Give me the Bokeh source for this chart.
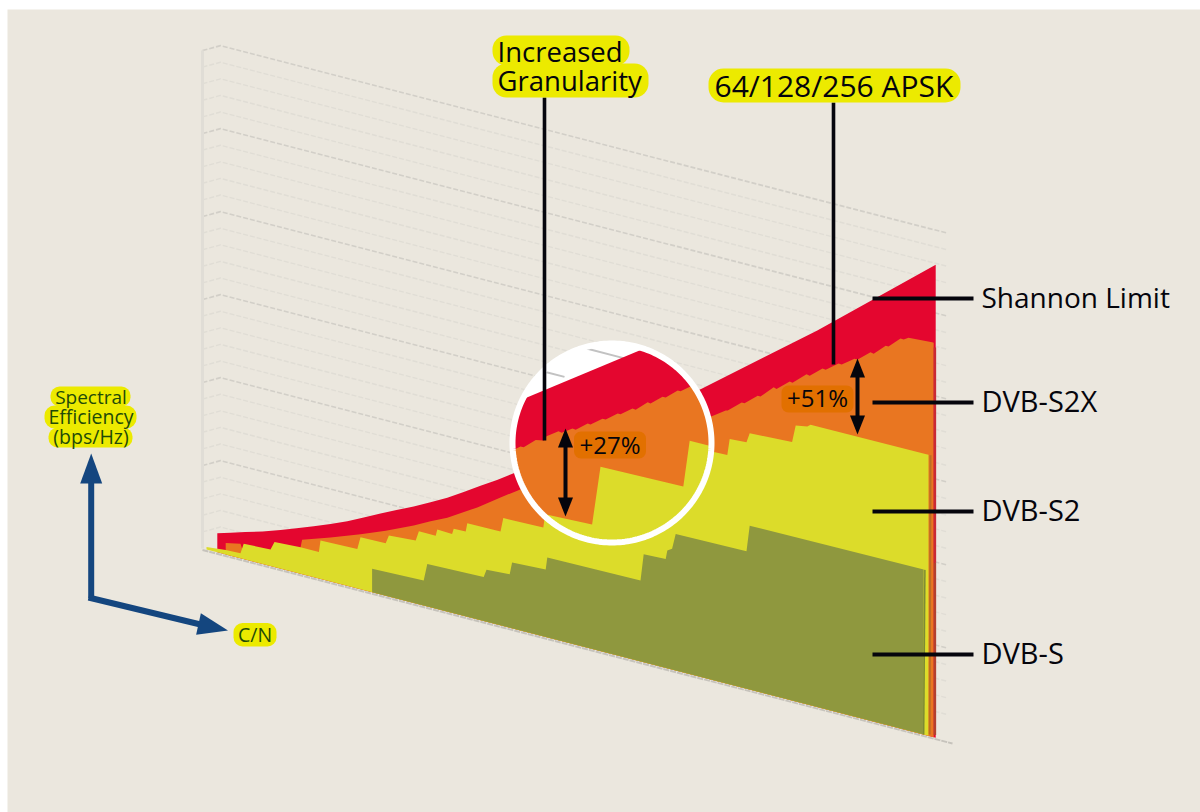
from bokeh.core.properties import value
from bokeh.embed import file_html
from bokeh.models import Range1d
from bokeh.plotting import figure
from bokeh.resources import INLINE
import numpy as np

# C/N in dB against spectral efficiency in bps/Hz for each standard
shannon_cn = [0.37, 0.7, 1.07, 1.5, 1.95, 2.35, 2.78, 3.2, 3.62, 4.03, 4.45, 4.85, 5.28, 5.7, 6.12, 6.53,
              6.95, 7.38, 7.78, 10.2, 12.49, 15.37, 18.33]
shannon_eff = [0.38, 0.46, 0.55, 0.65, 0.77, 0.89, 1.02, 1.15, 1.29, 1.45, 1.62, 1.77, 1.93, 2.10, 2.28, 2.48,
               2.69, 2.90, 3.11, 4.47, 5.78, 7.53, 9.46]

s2x_cn = [0.58, 0.95, 1.02, 2.42, 2.49, 3.2, 3.95, 4.58, 5.28, 5.7, 6.12, 6.5, 6.87, 7.45, 7.87, 10.2,
          12.78, 13.08, 13.13, 13.48, 13.55, 13.88, 13.95, 14.28, 14.35, 14.68, 14.75, 15.1, 15.18,
          15.5, 15.58, 15.9, 15.98, 16.3, 16.38, 16.7, 16.78, 17.08, 17.15, 17.45, 17.53, 17.65, 18.24]
s2x_eff = [0.23, 0.29, 0.13, 0.40, 0.69, 0.88, 1.10, 1.30, 1.55, 1.72, 1.88, 2.06, 2.24, 2.56, 2.78, 4.07,
           5.30, 5.46, 5.47, 5.70, 5.70, 5.92, 5.92, 6.17, 6.15, 6.37, 6.36, 6.60, 6.59,
           6.80, 6.79, 6.98, 6.98, 7.16, 7.16, 7.37, 7.36, 7.58, 7.58, 7.80, 7.80, 7.86, 7.89]

s2_cn = [0.1, 0.58, 0.95, 1.03, 1.7, 1.8, 2.45, 2.91, 2.95, 3.87, 3.95, 4.58, 4.66, 5.33, 5.41, 5.83,
         5.87, 6.24, 6.28, 6.58, 6.62, 7.45, 7.52, 8.52, 8.58, 9.95, 10.03, 11.45, 11.53, 12.45, 12.48,
         13.12, 13.18, 13.6, 13.68, 14.74, 14.83, 15.12, 15.2, 18.12]
s2_eff = [0.05, 0.09, 0.10, 0.31, 0.33, 0.50, 0.53, 0.53, 0.77, 0.79, 1.04, 1.05, 1.22, 1.26, 1.46, 1.46,
          1.59, 1.58, 1.69, 1.70, 1.87, 1.88, 2.16, 2.18, 2.53, 2.53, 2.93, 2.92, 3.74, 3.74, 4.56,
          4.58, 4.91, 4.93, 5.13, 5.17, 5.52, 5.56, 5.61, 5.62]

dvbs_cn = [4.24, 5.53, 5.62, 7.03, 7.1, 7.68, 7.74, 8.58, 8.62, 10.95, 11.03, 11.58, 11.62, 11.74,
           11.83, 13.6, 13.68, 18.03]
dvbs_eff = [0.47, 0.50, 0.85, 0.88, 1.04, 1.07, 1.32, 1.35, 1.60, 1.62, 2.16, 2.18, 2.36, 2.42,
            2.73, 2.75, 3.28, 3.30]

# Values shown under the magnifier
lens_shannon_cn = [7.45, 12.95]
lens_shannon_eff = [4.34, 7.31]
lens_s2x_cn = [7.65, 7.95, 8.03, 8.33, 8.53, 8.6, 8.9, 8.98, 9.25, 9.33, 9.63, 9.7, 10.0, 10.08, 10.38,
               10.45, 10.75, 10.83, 11.13, 11.2, 11.5, 11.58, 11.88, 11.95, 12.25, 12.33, 12.95]
lens_s2x_eff = [3.50, 3.68, 3.68, 3.89, 3.92, 4.02, 4.18, 4.17, 4.31, 4.30, 4.49, 4.48, 4.66, 4.66, 4.84,
                4.84, 5.02, 5.01, 5.22, 5.21, 5.41, 5.41, 5.61, 5.61, 5.79, 5.78, 6.11]
lens_s2_cn = [7.45, 9.74, 9.95, 12.02, 12.18, 12.95]
lens_s2_eff = [2.42, 2.49, 3.69, 3.72, 4.67, 4.67]

series_labels = ["Shannon Limit", "DVB-S2X", "DVB-S2", "DVB-S"]
gain_labels = ["+27%", "+51%"]
callouts = ["Increased", "Granularity", "64/128/256 APSK"]
axis_labels = ["Spectral", "Efficiency", "(bps/Hz)", "C/N"]

BG = "#ebe7de"
RED = "#e4062f"
ORANGE = "#e97621"
YELLOW = "#dcdc2a"
OLIVE = "#8f983e"
MARK = "#ecea00"
BADGE = "#e27000"
NAVY = "#14467f"
INK = "#05050c"
GREEN_INK = "#1f4a08"
FONT = value("Open Sans")

FLOOR_Y, FLOOR_X, FLOOR_SLOPE = 548.0, 202.0, 0.258
PX_PER_DB, PX_PER_BPS = 40.0, 50.0


def sx(cn):
    return FLOOR_X + np.asarray(cn, float) * PX_PER_DB


def sy(cn, eff):
    """Oblique projection: the C/N axis runs downhill, efficiency stands upright."""
    cn, eff = np.asarray(cn, float), np.asarray(eff, float)
    return FLOOR_Y + FLOOR_SLOPE * cn * PX_PER_DB - eff * PX_PER_BPS


def area(cn, eff, end_cn=None):
    """Outline of a filled series: its top edge, then back along the floor."""
    cn, eff = list(cn), list(eff)
    end = cn[-1] if end_cn is None else end_cn
    c = cn + [end, end, cn[0]]
    e = eff + [eff[-1], 0.0, 0.0]
    return sx(c), sy(c, e)


def clip_to_disc(xs, ys, cx, cy, r, n=240):
    """Sutherland-Hodgman clip of a polygon against a many-sided disc."""
    angles = np.linspace(0, 2 * np.pi, n, endpoint=False)
    poly = list(zip(xs, ys))
    for a in angles:
        nx, ny = np.cos(a), np.sin(a)
        out = []
        for i, (x0, y0) in enumerate(poly):
            x1, y1 = poly[(i + 1) % len(poly)]
            d0 = (x0 - cx) * nx + (y0 - cy) * ny - r
            d1 = (x1 - cx) * nx + (y1 - cy) * ny - r
            if d0 <= 0:
                out.append((x0, y0))
            if d0 * d1 < 0:
                t = d0 / (d0 - d1)
                out.append((x0 + t * (x1 - x0), y0 + t * (y1 - y0)))
        poly = out
    return [q[0] for q in poly], [q[1] for q in poly]


p = figure(width=1200, height=812, x_range=Range1d(0, 1200), y_range=Range1d(812, 0),
           output_backend="svg", toolbar_location=None, min_border=0,
           background_fill_color="white", border_fill_color="white", outline_line_color=None)
p.axis.visible = False
p.grid.visible = False

p.quad(left=7, right=1200, top=9, bottom=812, fill_color=BG, line_color=None)

# Back wall of the plot box: one rule per level, every fifth one heavier
for k in range(1, 31):
    level = k * 0.332
    c = [0.0, 0.45, 18.62]
    e = [level, level + 0.19, level + 0.19]
    heavy = k % 5 == 0
    p.line(sx(c), sy(c, e), line_color="#d2cfc8" if heavy else "#e0ddd5",
           line_width=1.6 if heavy else 1.4, line_dash="5 2")
p.line(sx([0, 18.75]), sy([0, 18.75], [-0.03, -0.03]), line_color="#c6c3bc", line_width=2, line_dash="6 1")
p.line(sx([0, 0]), sy([0, 0], [0, 9.96]), line_color="#e0ddd6", line_width=3)

# Filled standards, back to front
p.patch(*area(shannon_cn, shannon_eff), fill_color=RED, line_color=None)
p.patch(*area(s2x_cn, s2x_eff, 18.28), fill_color=ORANGE, line_color=None)
p.patch(*area(s2_cn, s2_eff, 18.15), fill_color=YELLOW, line_color=None)
p.patch(*area(dvbs_cn, dvbs_eff), fill_color=OLIVE, line_color=None)

# Shaded edges where the layers step back from each other
p.line(sx([18.31, 18.31]), sy([18.31, 18.31], [3.5, 0.05]), line_color="#b3402f", line_width=2.5)
p.line(sx([18.31, 18.31]), sy([18.31, 18.31], [7.8, 3.5]), line_color="#c92a35", line_width=2.5)
p.line(sx([18.2, 18.18]), sy([18.2, 18.18], [5.62, 0.03]), line_color="#bd6c24", line_width=2)
p.line(sx([18.06, 18.03]), sy([18.06, 18.03], [3.3, 0.0]), line_color="#7d8a35", line_width=1.5)

# Magnifier
CX, CY, R = 611.5, 442.5, 99.5
theta = np.linspace(0, 2 * np.pi, 241)
disc_x, disc_y = CX + R * np.cos(theta), CY + R * np.sin(theta)
p.patch(disc_x, disc_y, fill_color="white", line_color=None)

lens_rules_cn = [[8.6, 9.05], [9.6, 10.55]]
lens_rules_eff = [5.30, 5.98]
for c, level in zip(lens_rules_cn, lens_rules_eff):
    p.line(sx(c), sy(c, [level, level]), line_color="#c2c2c2", line_width=2)

for cn, eff, colour in ((lens_shannon_cn, lens_shannon_eff, RED),
                        (lens_s2x_cn, lens_s2x_eff, ORANGE),
                        (lens_s2_cn, lens_s2_eff, YELLOW)):
    ax, ay = area(cn, eff)
    cx_, cy_ = clip_to_disc(ax, ay, CX, CY, R)
    p.patch(cx_, cy_, fill_color=colour, line_color=None)
p.line(disc_x, disc_y, line_color="white", line_width=6)


def segment(x0, y0, x1, y1, colour, width):
    p.line([x0, x1], [y0, y1], line_color=colour, line_width=width)


def head(tip_x, tip_y, base_x, base_y, half, colour):
    dx, dy = tip_x - base_x, tip_y - base_y
    n = np.hypot(dx, dy)
    ox, oy = -dy / n * half, dx / n * half
    p.patch([tip_x, base_x + ox, base_x - ox], [tip_y, base_y + oy, base_y - oy],
            fill_color=colour, line_color=None)


def label(x, y, text, size, colour=INK, align="left"):
    p.text([x], [y], text=[text], text_font=FONT, text_font_size=f"{size}px", text_color=colour,
           text_align=align, text_baseline="middle")


def chip(x0, y0, x1, y1, colour, radius):
    p.quad(left=x0, right=x1, top=y0, bottom=y1, fill_color=colour, line_color=None, border_radius=radius)


# Leaders from the callouts and series names
segment(544, 97, 544, 440, INK, 3.6)
segment(833, 102, 833, 364, INK, 3.6)
for y, x0 in ((298, 872), (402, 872), (511, 872), (654, 872)):
    segment(x0, y, 973, y, INK, 4)

# Gain arrows
for x, y0, y1 in ((565, 428, 516), (857, 358, 434)):
    segment(x, y0 + 12, x, y1 - 12, INK, 4)
    head(x, y0, x, y0 + 19, 7.5, INK)
    head(x, y1, x, y1 - 19, 7.5, INK)

chip(573.5, 431, 645.5, 458, BADGE, 7)
chip(781, 385, 853, 412, BADGE, 7)
label(609.5, 444, gain_labels[0], 24, align="center")
label(817, 397, gain_labels[1], 24, align="center")

# Callouts
chip(492, 35, 629, 65, MARK, 14)
chip(492, 63, 648, 97, MARK, 14)
chip(708, 68, 960, 102, MARK, 15)
label(497, 51, callouts[0], 27.5)
label(497, 80, callouts[1], 27.5)
label(714, 85, callouts[2], 30)

# Series names
for y, text, size in zip((296, 400, 509, 652), series_labels, (28, 29, 29, 29)):
    label(981, y, text, size)

# Axis key
segment(90.7, 480, 90.7, 597.5, NAVY, 6)
segment(88, 597, 200, 624, NAVY, 6)
head(90.7, 453, 90.7, 483, 11, NAVY)
head(227.5, 630, 198, 623.5, 11, NAVY)
chip(50, 386, 130, 406, MARK, 9)
chip(44, 405, 136, 428, MARK, 10)
chip(48, 427, 132, 447, MARK, 9)
chip(233, 622.5, 276, 646, MARK, 9)
label(90.5, 396.5, axis_labels[0], 19, GREEN_INK, "center")
label(90.5, 416, axis_labels[1], 19.5, GREEN_INK, "center")
label(90.5, 435.5, axis_labels[2], 19.5, GREEN_INK, "center")
label(254.5, 634, axis_labels[3], 19.5, GREEN_INK, "center")

open("out.html", "w").write(file_html(p, INLINE))
